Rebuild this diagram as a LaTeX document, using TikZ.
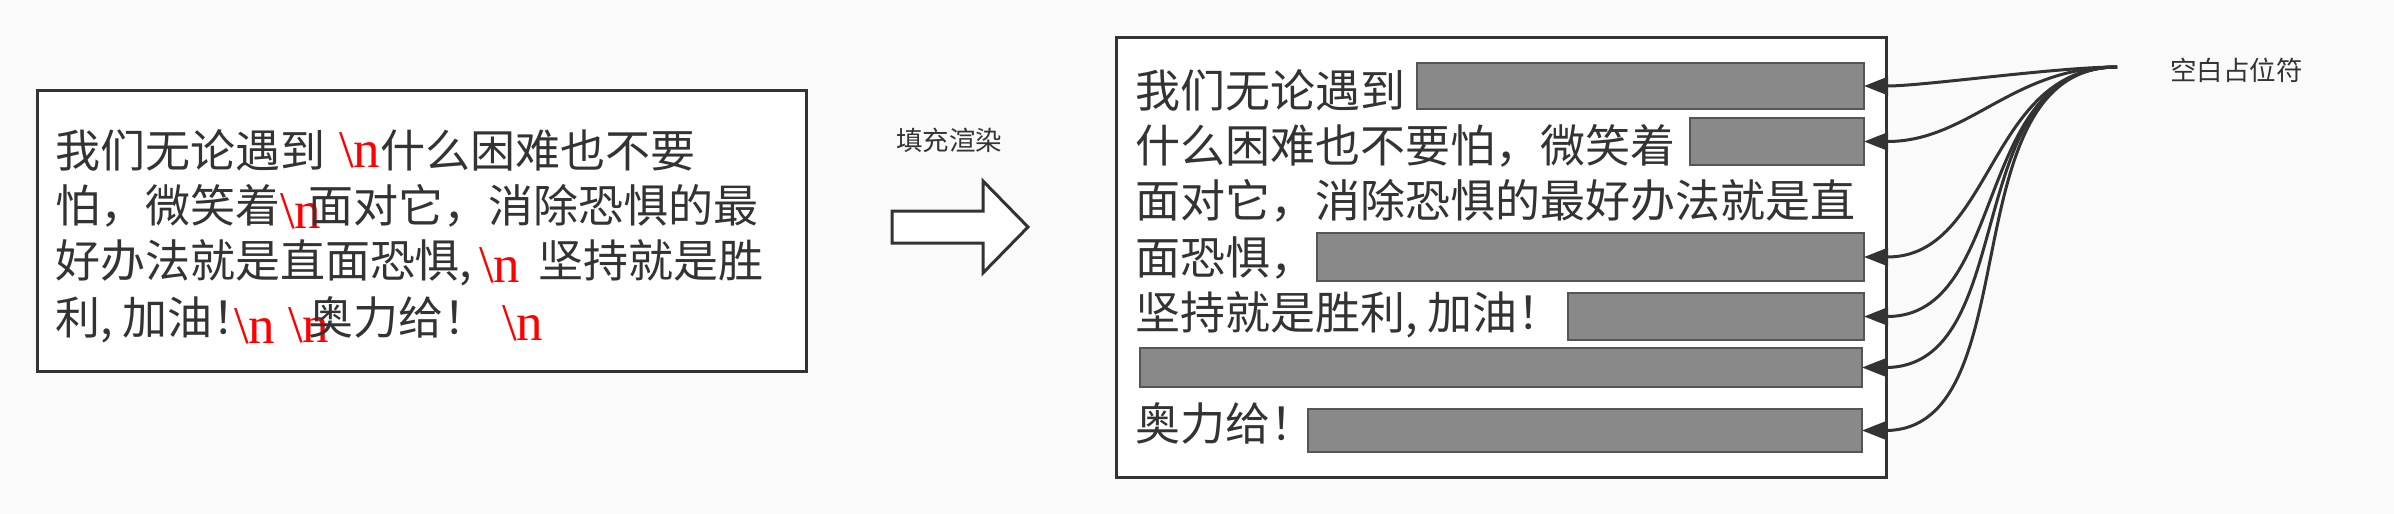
\documentclass[tikz,border=0pt]{standalone}
\usepackage{fontspec}
\newfontfamily\cjk{Noto Sans CJK SC}
\newfontfamily\lat{Liberation Serif}
\usetikzlibrary{arrows.meta}
\definecolor{ink}{HTML}{333333}
\definecolor{bg}{HTML}{FAFAFA}
\definecolor{phfill}{HTML}{898989}
\definecolor{phline}{HTML}{555555}
\definecolor{nlred}{HTML}{FF0000}
\tikzset{
  cjkt/.style={font=\cjk\fontsize{45}{54}\selectfont, text=ink, inner sep=0pt, outer sep=0pt, anchor=base west},
  nlt/.style={font=\lat\fontsize{53}{60}\selectfont, text=nlred, inner sep=0pt, outer sep=0pt, anchor=base west},
  lbl/.style={font=\cjk\fontsize{26.5}{30}\selectfont, text=ink, inner sep=0pt, outer sep=0pt, anchor=base west},
  frame/.style={draw=ink, line width=3pt, fill=white, inner sep=0pt, outer sep=0pt, line join=miter},
  ph/.style={draw=phline, fill=phfill, line width=2pt, inner sep=0pt, outer sep=0pt, anchor=north west},
  conn/.style={draw=ink, line width=3pt, -{Triangle[length=24pt,width=18pt]}}
}
\begin{document}
\begin{tikzpicture}[x=1pt,y=-1pt]
\useasboundingbox (0,0) rectangle (2394,514);
\fill[bg] (0,0) rectangle (2394,514);

% left box
\node[frame, anchor=north west, minimum width=769pt, minimum height=281pt] (lbox) at (37,90) {};
\node[cjkt] (l1a) at (55,167) {我们无论遇到};
\node[nlt] (l1n) at (339,167) {\textbackslash n};
\node[cjkt] (l1b) at (380,167) {什么困难也不要};
\node[cjkt] (l2a) at (55,222) {怕，微笑着};
\node[nlt] (l2n) at (280,228) {\textbackslash n};
\node[cjkt] (l2b) at (308,222) {面对它，消除恐惧的最};
\node[cjkt] (l3a) at (55,277) {好办法就是直面恐惧,};
\node[nlt] (l3n) at (479,282) {\textbackslash n};
\node[cjkt] (l3b) at (538,277) {坚持就是胜};
\node[cjkt] (l4a) at (55,334) {利, 加油！};
\node[nlt] (l4n1) at (234,343) {\textbackslash n};
\node[nlt] (l4n2) at (288,342) {\textbackslash n};
\node[cjkt] (l4b) at (308,334) {奥力给！};
\node[nlt] (l4n3) at (502,340) {\textbackslash n};

% block arrow
\node[lbl] (fillr) at (896,150) {填充渲染};
\draw[frame] (892,211) -- (983,211) -- (983,181) -- (1028,227) -- (983,273) -- (983,243) -- (892,243) -- cycle;

% right box
\node[frame, anchor=north west, minimum width=770pt, minimum height=440pt] (rbox) at (1116,37) {};
\node[cjkt] (t1) at (1135,107) {我们无论遇到};
\node[cjkt] (t2) at (1135,162) {什么困难也不要怕，微笑着};
\node[cjkt] (t3) at (1135,217) {面对它，消除恐惧的最好办法就是直};
\node[cjkt] (t4) at (1135,274) {面恐惧，};
\node[cjkt] (t5) at (1135,329) {坚持就是胜利, 加油！};
\node[cjkt] (t7) at (1135,440) {奥力给！};

\node[ph, minimum width=447pt, minimum height=46pt] (r1) at (1417,63) {};
\node[ph, minimum width=174pt, minimum height=47pt] (r2) at (1690,118) {};
\node[ph, minimum width=547pt, minimum height=48pt] (r3) at (1317,233) {};
\node[ph, minimum width=296pt, minimum height=47pt] (r4) at (1568,293) {};
\node[ph, minimum width=722pt, minimum height=39pt] (r5) at (1140,348) {};
\node[ph, minimum width=554pt, minimum height=43pt] (r6) at (1308,409) {};

% connectors
\node[lbl] (phlabel) at (2170,80) {空白占位符};
\coordinate (src) at (2117,67);
\foreach \r/\d in {r1/60,r2/105,r3/130,r4/145,r5/160,r6/170}
  \draw[conn] (src) .. controls +(-\d,0) and +(\d,0) .. (\r.east);
\end{tikzpicture}
\end{document}
